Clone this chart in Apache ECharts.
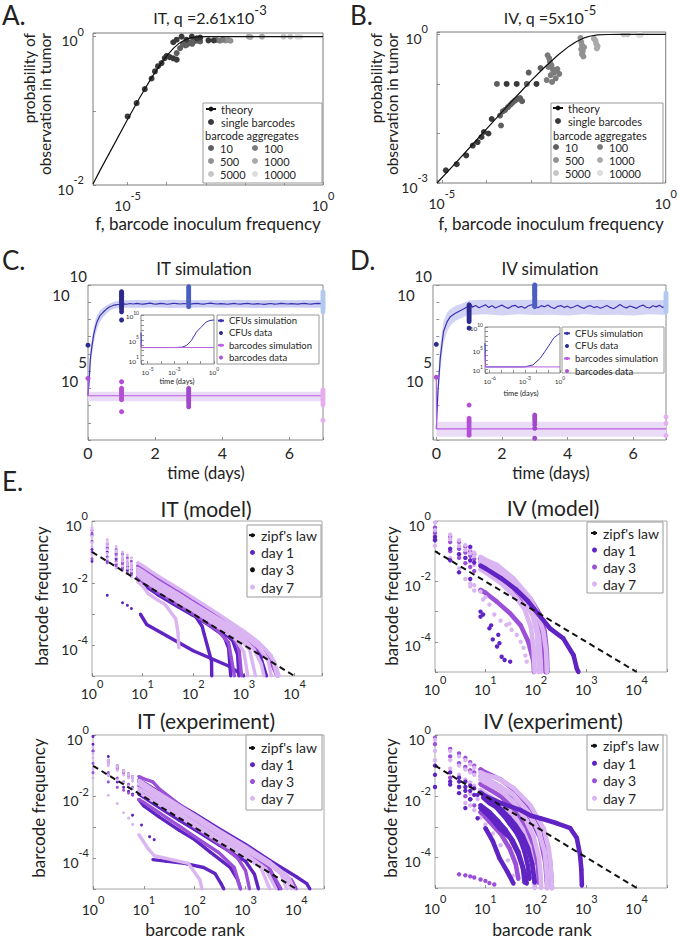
<!DOCTYPE html>
<html><head><meta charset="utf-8"><title>barcode figure</title>
<script src="https://cdn.jsdelivr.net/npm/echarts@6.0.0/dist/echarts.min.js"></script>
<style>html,body{margin:0;padding:0;background:#fff;}#chart{width:680px;height:938px;}</style>
</head><body><div id="chart"></div><script>
// ================= DATA =================
// ---- Panel A (IT, q = 2.61e-3): [f, probability] ----
const aTheory = [[1.3e-6,0.0103],[2e-6,0.016],[5e-6,0.039],[1e-5,0.077],[2e-5,0.148],[4e-5,0.274],[7e-5,0.43],[1e-4,0.55],[1.5e-4,0.7],[2e-4,0.8],[3e-4,0.91],[4e-4,0.96],[6e-4,0.99],[1e-3,1],[1,1]];
const aSingle = [[1.0e-5,0.084],[1.7e-5,0.127],[2.75e-5,0.196],[4.1e-5,0.273],[5e-5,0.34],[6e-5,0.40],[7.4e-5,0.44],[8.9e-5,0.515],[1e-4,0.55],[1.2e-4,0.53],[1.47e-4,0.51],[1.8e-4,0.49],[1.47e-4,0.84],[1.8e-4,0.91],[2.4e-4,1.0],[3.2e-4,0.91],[4.4e-4,1.0],[5.9e-4,0.95],[7.2e-4,0.97],[1.17e-3,0.89],[1.6e-3,0.89]];
const aAgg10 = [[1.8e-4,0.6],[2.2e-4,0.7],[2.6e-4,0.8],[3e-4,0.76],[3.3e-4,0.78],[3.8e-4,0.82],[4.2e-4,0.84],[4.5e-4,0.8],[5e-4,0.86],[6e-4,0.88],[7.2e-4,0.86]];
const aAgg100 = [[1.9e-3,0.9],[2.3e-3,0.88],[2.7e-3,0.91]];
const aAgg500 = [[3.2e-3,0.89],[3.8e-3,0.9],[4.3e-3,0.88]];
const aAgg1000 = [[1.26e-2,1.0],[1.4e-2,0.99],[2.75e-2,1.0]];
const aAgg5000 = [[9.8e-2,1.0],[0.145,1.0]];
const aAgg10000 = [[0.22,1.0],[0.26,1.0]];
// ---- Panel B (IV, q = 5e-5) ----
const bTheory = [[7.8e-6,0.001],[2e-5,0.0025],[5e-5,0.0062],[1e-4,0.0124],[3e-4,0.037],[6e-4,0.072],[1e-3,0.118],[2e-3,0.22],[4e-3,0.39],[7e-3,0.58],[1e-2,0.71],[1.5e-2,0.85],[2e-2,0.92],[3e-2,0.977],[5e-2,0.998],[0.1,1],[1,1]];
const bSingle = [[1.23e-5,0.0018],[2.15e-5,0.0024],[3.5e-5,0.0036],[4.9e-5,0.0057],[6.3e-5,0.0067],[7.7e-5,0.0085],[8.7e-5,0.0107],[1.1e-4,0.01],[1.3e-4,0.0196],[2.8e-4,0.1],[4.7e-4,0.1],[1.3e-3,0.1]];
const bAgg10 = [[1.7e-4,0.1],[7.9e-4,0.1],[2e-4,0.023],[2.1e-4,0.0145],[2.3e-4,0.028],[2.6e-4,0.03],[3e-4,0.034],[3.4e-4,0.038],[3.8e-4,0.042],[4.3e-4,0.046],[5e-4,0.05],[5.6e-4,0.052],[6.2e-4,0.045],[8.7e-4,0.17],[1.6e-3,0.21]];
const bAgg100 = [[2.3e-3,0.38],[2.5e-3,0.33],[2.6e-3,0.28],[2.8e-3,0.24],[3e-3,0.2],[3.2e-3,0.17],[2.4e-3,0.22],[2.7e-3,0.15],[3.5e-3,0.13],[2.9e-3,0.11],[3.8e-3,0.2],[2.2e-3,0.12],[4.2e-3,0.16]];
const bAgg500 = [[1.25e-2,0.85],[1.3e-2,0.7],[1.35e-2,0.6],[1.3e-2,0.5],[1.4e-2,0.45],[1.35e-2,0.4],[1.45e-2,0.36],[1.5e-2,0.55]];
const bAgg1000 = [[2.5e-2,0.82],[2.7e-2,0.75],[2.8e-2,0.65],[3e-2,0.58],[2.9e-2,0.52]];
const bAgg5000 = [[0.115,1.0],[0.14,1.0],[2.9e-3,0.17]];
const bAgg10000 = [[0.25,0.98],[0.28,0.98]];
// tick labels (powers of ten)
const aXTicks = [-5, 0], aYTicks = [0, -2];
const bXTicks = [-5, 0], bYTicks = [0, -3];
const cdYTicks = [5, 10];
const cInsetXTicks = [-5, -3, 0], dInsetXTicks = [-6, -3, 0], insetYTicks = [1, 5, 10];
const eXTicks = [0, 1, 2, 3, 4], eYTicks = [0, -2, -4];

// ---- Panel C (IT simulation): [day, count] ----
const cCfuSim = [[0,4e3],[0.04,4e4],[0.07,5.5e5],[0.12,3e6],[0.17,1.3e7],[0.22,3.5e7],[0.27,7.4e7],[0.35,1.6e8],[0.45,2.6e8],[0.55,4e8],[0.65,5.5e8],[0.75,6.5e8],[0.85,7.2e8],[0.95,7.6e8],
[1.05,8.1e8],[1.15,7.6e8],[1.25,8.4e8],[1.35,7.9e8],[1.45,8.6e8],[1.55,8.0e8],[1.65,7.7e8],[1.75,8.3e8],[1.85,8.8e8],[1.95,8.1e8],[2.05,7.8e8],[2.15,8.5e8],[2.25,8.2e8],[2.35,7.6e8],[2.45,8.0e8],[2.55,8.7e8],[2.65,8.3e8],[2.75,7.9e8],[2.85,8.4e8],[2.95,8.0e8],[3.05,7.7e8],[3.15,8.2e8],[3.25,8.6e8],[3.35,8.1e8],[3.45,7.8e8],[3.55,8.4e8],[3.65,8.9e8],[3.75,8.2e8],[3.85,7.9e8],[3.95,8.3e8],[4.05,8.0e8],[4.15,7.6e8],[4.25,8.1e8],[4.35,8.5e8],[4.45,7.9e8],[4.55,7.7e8],[4.65,8.2e8],[4.75,8.6e8],[4.85,8.0e8],[4.95,7.8e8],[5.05,8.3e8],[5.15,7.9e8],[5.25,7.5e8],[5.35,8.0e8],[5.45,8.4e8],[5.55,7.8e8],[5.65,8.1e8],[5.75,8.6e8],[5.85,8.2e8],[5.95,7.9e8],[6.05,8.3e8],[6.15,8.0e8],[6.25,7.7e8],[6.35,8.2e8],[6.45,8.5e8],[6.55,8.1e8],[6.65,7.8e8],[6.75,8.3e8],[6.85,8.6e8],[6.95,8.4e8]];
const cCfuBand = [[0,3e3,6e3],[0.04,1.2e4,1.5e5],[0.07,1.5e5,2e6],[0.12,9e5,9e6],[0.17,4e6,3.5e7],[0.22,1.2e7,9e7],[0.27,2.8e7,1.7e8],[0.35,7e7,3.2e8],[0.45,1.3e8,4.8e8],[0.55,2.2e8,6.5e8],[0.65,3.2e8,8.5e8],[0.8,4.3e8,1.1e9],[1.0,4.8e8,1.3e9],[1.5,4.7e8,1.35e9],[2,4.9e8,1.3e9],[2.5,4.6e8,1.4e9],[3,4.8e8,1.3e9],[3.5,5e8,1.35e9],[4,4.7e8,1.3e9],[4.5,4.9e8,1.4e9],[5,4.6e8,1.3e9],[5.5,4.8e8,1.35e9],[6,5e8,1.3e9],[6.5,4.7e8,1.35e9],[7,4.8e8,1.3e9]];
const cBarSim = [[0,3.8e4],[0.005,3.7e3],[7,3.7e3]];
const cBarBand = [[0,1.8e3,6.3e3],[7,1.8e3,6.3e3]];
const cCfuDay0 = [3.2e6];
const cCfuDay1 = [4.1e9,3.3e9,2.7e9,2.2e9,1.8e9,1.45e9,1.2e9,1e9,8e8,6.5e8,5.2e8,4e8,2.8e8,9.3e7];
const cCfuDay3 = [8e9,6.3e9,5e9,4e9,3.2e9,2.5e9,2e9,1.6e9,1.3e9,1e9,8e8,5.5e8];
const cCfuDay7 = [4e9,3.2e9,2.5e9,2e9,1.6e9,1.25e9,1e9,8e8,6.3e8,5e8,4e8,2.8e8];
const cBarDay0 = [3.8e4];
const cBarDay1 = [2.4e4,1e4,8e3,6.3e3,5e3,4e3,3.2e3,2.5e3,2.2e3,4.4e2];
const cBarDay3 = [1e4,7.9e3,6.3e3,5e3,4e3,3.2e3,2.5e3,2e3,1.6e3,1.2e3,8.5e2];
const cBarDay7 = [8e3,6.3e3,5e3,4e3,3.2e3,2.5e3,2e3,1.5e3,1.1e3,1.4e2];
const cInsetCfu = [[3.2e-6,3.2e6],[3.4e-6,3e3],[1e-3,3e3],[4e-3,3.5e3],[8.7e-3,8e3],[2e-2,8e4],[4.8e-2,4e6],[0.1,3e7],[0.26,4e8],[0.5,8e8],[1,1e9]];
const cInsetBar = [[3.2e-6,3.8e4],[3.4e-6,3e3],[1,3e3]];

// ---- Panel D (IV simulation) ----
const dCfuSim = [[0,44],[0.05,6.3e3],[0.12,5.5e5],[0.22,2e7],[0.33,7.4e7],[0.43,1.45e8],[0.58,2.3e8],[0.7,3e8],[0.83,4e8],[0.95,5.5e8],[1.04,8e8],[1.1,5.2e8],[1.2,6.5e8],[1.3,4.8e8],[1.4,5.8e8],[1.5,7e8],[1.6,5e8],[1.7,6.2e8],[1.8,4.6e8],[1.9,5.6e8],[2.0,6.8e8],[2.1,5.3e8],[2.2,4.4e8],[2.3,5.9e8],[2.4,6.6e8],[2.5,5e8],[2.6,5.7e8],[2.7,4.5e8],[2.8,6e8],[2.9,7.2e8],[3.0,5.8e8],[3.1,4.8e8],[3.2,6.3e8],[3.3,5.4e8],[3.4,6.9e8],[3.5,5.1e8],[3.6,4.3e8],[3.7,5.8e8],[3.8,6.4e8],[3.9,5e8],[4.0,5.9e8],[4.1,4.6e8],[4.2,5.5e8],[4.3,6.7e8],[4.4,5.2e8],[4.5,4.4e8],[4.6,5.7e8],[4.7,6.3e8],[4.8,4.9e8],[4.9,5.6e8],[5.0,4.5e8],[5.1,5.3e8],[5.2,6.5e8],[5.3,5e8],[5.4,4.2e8],[5.5,5.4e8],[5.6,7.3e8],[5.7,5.5e8],[5.8,4.7e8],[5.9,6e8],[6.0,5.2e8],[6.1,4.4e8],[6.2,5.8e8],[6.3,6.8e8],[6.4,5.1e8],[6.5,4.6e8],[6.6,6.2e8],[6.7,5.4e8],[6.8,6.6e8],[6.9,5e8],[7.0,5.6e8]];
const dCfuBand = [[0,20,100],[0.05,1.5e3,3e4],[0.12,1e5,3e6],[0.22,4e6,8e7],[0.33,2e7,2.5e8],[0.43,4.5e7,4e8],[0.58,8e7,6e8],[0.83,1.4e8,9e8],[1.0,1.8e8,1.3e9],[1.5,2e8,1.4e9],[2,1.7e8,1.3e9],[2.5,2e8,1.35e9],[3,1.8e8,1.4e9],[3.5,1.9e8,1.3e9],[4,1.7e8,1.35e9],[4.5,2e8,1.3e9],[5,1.8e8,1.4e9],[5.5,1.9e8,1.3e9],[6,1.7e8,1.35e9],[6.5,2e8,1.3e9],[7,1.8e8,1.35e9]];
const dBarSim = [[0,4.4e4],[0.01,44],[7,44]];
const dBarBand = [[0,15.5,115],[7,15.5,115]];
const dCfuDay0 = [3.6e6];
const dCfuDay1 = [7e8,5.5e8,4.5e8,3.5e8,2.8e8,2.2e8,1.7e8,1.3e8,1e8,7.6e7,3.1e7];
const dCfuDay3 = [1e10,8.5e9,7e9,6e9,5e9,4.2e9,3.5e9,3e9,2.5e9,2e9,1.6e9,1.3e9,1e9,8e8,6.3e8,5.5e8];
const dCfuDay7 = [3.4e9,2.7e9,2.1e9,1.7e9,1.3e9,1e9,8e8,6.3e8,5e8,4e8,2.8e8];
const dBarDay0 = [4.4e4];
const dBarDay1 = [1.07e3,1.8e2,1.3e2,1e2,70,50,35,25,19];
const dBarDay3 = [2.8e2,2.2e2,1.6e2,1.2e2,80,48,12.6];
const dBarDay7 = [2.2e2,93,18];
const dInsetCfu = [[4e-7,3.6e6],[4.5e-7,30],[1e-3,30],[5e-3,80],[2e-2,2e3],[5e-2,5e4],[0.14,2.5e6],[0.3,5e7],[0.7,2.5e8],[1,4e8]];
const dInsetBar = [[4e-7,4.4e4],[4.5e-7,30],[1,30]];

// ---- Panel E: rank-frequency curves, [rank, frequency] ----
const zipf = [[1,0.1],[10000,1e-5]];
// IT (model)
const itmDay1 = [
 [[1,0.5],[2,0.14],[3,0.09],[4,0.06],[5,0.045],[6,0.036],[8,0.027],[10,0.021],[20,0.01],[50,0.004],[100,0.002],[300,6.5e-4],[1000,1.8e-4],[2000,6e-5],[2800,1e-5]],
 [[1,0.35],[2,0.1],[3,0.06],[4,0.045],[5,0.035],[6,0.028],[8,0.02],[10,0.016],[20,0.0075],[50,0.0027],[100,0.0011],[150,4e-4],[165,2.2e-4],[230,3e-5],[232,1e-5]],
 [[1,0.05],[2,0.004],[4,0.0023],[5,0.0019],[6,0.0015],[9,0.001],[12,4.6e-4],[100,6.5e-5],[500,2.1e-5],[1000,1e-5]],
 [[1,0.12],[2,0.05],[3,0.04],[4,0.032],[5,0.026],[6,0.021],[8,0.016],[10,0.012],[20,0.0056],[50,0.0022],[100,0.0011],[300,3.6e-4],[600,1.4e-4],[750,5e-5],[800,1e-5]],
 [[10,0.009],[20,0.0042],[50,0.0017],[100,9e-4],[200,4.5e-4],[400,2e-4],[500,8e-5],[550,1e-5]]];
const itmDay3 = [
 [[1,0.22],[2,0.13],[3,0.08],[4,0.055],[5,0.042],[6,0.034],[8,0.025],[10,0.019],[20,0.0088],[50,0.0035],[100,0.0017],[300,5.8e-4],[1000,1.7e-4],[2000,7e-5],[3500,2.5e-5],[4500,1e-5]],
 [[1,0.1],[2,0.07],[3,0.05],[4,0.04],[5,0.033],[6,0.027],[8,0.02],[10,0.015],[20,0.007],[50,0.0028],[100,0.0014],[300,4.5e-4],[600,2e-4],[800,8e-5],[900,1e-5]],
 [[1,0.06],[2,0.045],[3,0.035],[4,0.028],[5,0.022],[6,0.018],[8,0.014],[10,0.011],[20,0.005],[50,0.002],[100,0.001],[300,3e-4],[500,1.2e-4],[650,1e-5]],
 [[1,0.4],[2,0.18],[3,0.12],[4,0.085],[5,0.065],[6,0.05],[8,0.036],[10,0.03],[20,0.014],[50,0.0055],[100,0.0027],[300,8.5e-4],[1000,2.5e-4],[2500,8e-5],[4000,2.5e-5],[4800,1e-5]]];
const itmDay7 = [
 [[1,0.32],[2,0.2],[3,0.1],[4,0.06],[5,0.045],[6,0.035],[8,0.026],[10,0.02],[20,0.0095],[50,0.0038],[100,0.0019],[300,6.5e-4],[1000,2e-4],[2000,8e-5],[3000,3.2e-5],[3500,1e-5]],
 [[1,0.15],[2,0.12],[3,0.07],[4,0.05],[5,0.038],[6,0.03],[8,0.022],[10,0.017],[20,0.008],[50,0.0032],[100,0.0016],[300,5.2e-4],[1000,1.5e-4],[1600,7e-5],[2200,2.5e-5],[2500,1e-5]],
 [[1,0.08],[2,0.06],[3,0.045],[4,0.035],[5,0.03],[6,0.024],[8,0.018],[10,0.013],[20,0.0062],[50,0.0025],[100,0.0013],[300,4e-4],[700,1.5e-4],[1000,6e-5],[1200,1e-5]],
 [[1,0.2],[2,0.09],[3,0.03],[4,0.025],[5,0.02],[6,0.016],[8,0.011],[10,0.008],[13,0.0045],[20,0.0028],[28,0.002],[45,7e-4],[50,2.5e-4],[52,8e-5]],
 [[1,0.5],[2,0.16],[3,0.11],[4,0.075],[5,0.055],[6,0.042],[8,0.03],[10,0.024],[20,0.011],[50,0.0045],[100,0.0022],[300,7.5e-4],[1000,2.4e-4],[2500,8e-5],[4000,3e-5],[5000,1e-5]],
 [[1,0.6],[2,0.25],[3,0.15],[4,0.1],[5,0.08],[6,0.065],[8,0.045],[10,0.036],[20,0.017],[50,0.0068],[100,0.0033],[300,1.05e-3],[1000,2.8e-4],[2000,1.2e-4],[3500,4.5e-5],[4500,1e-5]],
 [[8,0.02],[10,0.016],[20,0.0075],[50,0.003],[100,0.0015],[300,5e-4],[800,1.7e-4],[1300,7e-5],[1700,1e-5]]];
// IV (model)
const ivmDay1 = [
 [[1,0.3],[2,0.12],[3,0.08],[4,0.06],[5,0.05],[6,0.042],[8,0.033],[10,0.027],[20,0.013],[40,0.0055],[70,0.0022],[90,0.0013],[190,2.8e-4],[350,1.3e-4],[560,3.6e-5],[650,1.3e-5],[700,1e-5]]];
const ivmDay1Dots = [[1,0.23],[5,0.14],[2,0.05],[3,0.02],[5,0.012],[8,0.001],[8,6.8e-4],[9,8e-4],[12,2.8e-4],[13,3.5e-4],[14,1.2e-4],[17,7e-5],[18,1.7e-4],[19,9e-5],[21,3.2e-5],[24,2.5e-5],[31,2.2e-5]];
const ivmDay3 = [
 [[1,0.6],[2,0.3],[3,0.2],[4,0.14],[5,0.1],[6,0.08],[8,0.058],[10,0.047],[20,0.025],[40,0.009],[80,0.0025],[120,8e-4],[150,2.2e-4],[165,5e-5],[170,1e-5]],
 [[1,0.4],[2,0.2],[3,0.12],[4,0.09],[5,0.07],[6,0.055],[8,0.04],[10,0.032],[20,0.015],[40,0.005],[70,0.0015],[100,5e-4],[130,1.2e-4],[150,2.5e-5],[155,1e-5]],
 [[1,0.25],[2,0.1],[3,0.06],[4,0.04],[5,0.03],[6,0.022],[8,0.0052],[10,0.0042],[17,0.0021],[31,8.7e-4],[50,3.5e-4],[71,1e-4],[90,2.2e-5],[92,1e-5]],
 [[8,0.05],[10,0.04],[20,0.02],[40,0.007],[75,0.002],[110,6e-4],[140,1.5e-4],[158,3e-5],[162,1e-5]]];
const ivmDay7 = [
 [[1,0.9],[2,0.35],[3,0.23],[4,0.16],[5,0.12],[6,0.09],[8,0.065],[10,0.052],[17,0.035],[36,0.0126],[77,0.0028],[105,0.001],[141,2.2e-4],[160,5e-5],[166,1e-5]],
 [[1,0.5],[2,0.25],[3,0.15],[4,0.11],[5,0.085],[6,0.07],[8,0.05],[10,0.04],[17,0.025],[36,0.009],[70,0.002],[95,6e-4],[115,1.5e-4],[125,2e-5],[127,1e-5]],
 [[1,0.3],[2,0.12],[3,0.08],[4,0.06],[5,0.045],[6,0.035],[8,0.025],[10,0.02],[20,0.009],[40,0.003],[60,0.0012],[80,3e-4],[90,6e-5],[95,1e-5]],
 [[8,0.04],[10,0.033],[17,0.02],[36,0.007],[60,0.0025],[85,8e-4],[105,2e-4],[112,3e-5],[115,1e-5]]];
const ivmDay7Dots = [[1,0.15],[2,0.06],[3,0.027],[4,0.012],[5,0.0085],[5,0.0068],[6,0.0075],[6,0.005],[8,0.0046],[9,0.0025],[10,0.003],[12,0.0017],[15,8e-4],[20,5e-4],[26,3.6e-4],[30,4e-4],[33,2.5e-4],[42,1.7e-4],[50,1e-4],[57,6.3e-5],[62,3.5e-5],[66,2.2e-5]];
// IT (experiment)
const iteDay1 = [
 [[1,0.9],[2,0.2],[3,0.1],[4,0.07],[5,0.055],[6,0.045],[8,0.035],[10,0.028],[20,0.014],[50,0.0055],[100,0.0028],[300,9e-4],[1000,2.8e-4],[3000,8.5e-5],[10000,2.5e-5],[16000,1.5e-5],[18500,1e-5]],
 [[15,9e-5],[27,8e-5],[63,6.8e-5],[150,5e-5],[250,3.2e-5],[330,1.5e-5],[375,1e-5]],
 [[1,0.3],[2,0.05],[3,0.03],[4,0.02],[5,0.015],[6,0.012],[8,0.008],[10,0.005],[20,0.0022],[50,8e-4],[100,4e-4],[200,1.6e-4],[500,5e-5],[700,2e-5],[800,1e-5]],
 [[1,0.5],[2,0.15],[3,0.09],[4,0.065],[5,0.05],[6,0.04],[8,0.03],[10,0.024],[20,0.011],[50,0.0042],[100,0.002],[300,6e-4],[1000,1.7e-4],[2500,5e-5],[4000,1.5e-5],[4500,1e-5]],
 [[8,0.012],[10,0.0095],[20,0.0045],[50,0.0017],[100,8.5e-4],[300,2.7e-4],[1000,8e-5],[1500,3e-5],[1800,1e-5]]];
const iteDay1Dots = [[6,0.0025],[9,0.0012],[13,5e-4],[16,4e-4]];
const iteDay3 = [
 [[1,0.3],[2,0.12],[3,0.08],[4,0.06],[5,0.048],[6,0.04],[8,0.045],[10,0.038],[15,0.03],[20,0.018],[50,0.0055],[100,0.0025],[300,8e-4],[1000,2.5e-4],[3000,7e-5],[8000,2e-5],[10000,1e-5]],
 [[1,0.12],[2,0.06],[3,0.04],[4,0.03],[5,0.025],[6,0.02],[8,0.015],[10,0.012],[20,0.006],[50,0.0022],[100,0.001],[300,3e-4],[700,1e-4],[1000,4e-5],[1200,1e-5]],
 [[1,0.06],[2,0.03],[3,0.02],[4,0.016],[5,0.013],[6,0.011],[8,0.008],[10,0.0065],[20,0.003],[50,0.0011],[100,5e-4],[300,1.5e-4],[600,5e-5],[800,1e-5]],
 [[8,0.022],[10,0.017],[20,0.008],[50,0.0031],[100,0.0015],[300,4.8e-4],[1000,1.5e-4],[3000,4.5e-5],[5000,1e-5]]];
const iteDay7 = [
 [[1,0.18],[2,0.1],[3,0.07],[4,0.05],[5,0.04],[6,0.032],[8,0.025],[10,0.02],[20,0.0095],[50,0.0038],[100,0.0019],[300,6e-4],[1000,1.8e-4],[3000,6e-5],[6000,2.5e-5],[8000,1e-5]],
 [[1,0.08],[2,0.05],[3,0.035],[4,0.028],[5,0.022],[6,0.018],[8,0.014],[10,0.011],[20,0.0055],[50,0.0022],[100,0.0011],[300,3.5e-4],[1000,1.1e-4],[2000,5e-5],[3000,1e-5]],
 [[1,0.04],[2,0.011],[3,0.006],[4,0.003],[5,0.002],[6,0.00125],[8,5.8e-4],[12,2.1e-4],[16,1.2e-4],[75,6.8e-5],[126,2e-5],[140,1e-5]],
 [[1,0.4],[2,0.15],[3,0.1],[4,0.07],[5,0.055],[6,0.045],[8,0.034],[10,0.027],[20,0.013],[50,0.005],[100,0.0025],[300,8e-4],[1000,2.4e-4],[3000,7.5e-5],[7000,2.5e-5],[9000,1e-5]],
 [[1,0.25],[2,0.12],[3,0.09],[4,0.065],[5,0.05],[6,0.04],[8,0.03],[10,0.024],[20,0.011],[50,0.0044],[100,0.0022],[300,7e-4],[1000,2.1e-4],[3000,7e-5],[5000,3e-5],[6500,1e-5]],
 [[8,0.018],[10,0.015],[20,0.0072],[50,0.0029],[100,0.0014],[300,4.5e-4],[1000,1.4e-4],[2500,4.5e-5],[4000,1e-5]]];
// IV (experiment)
const iveDay1 = [
 [[1,0.1],[2,0.03],[3,0.02],[4,0.015],[6,0.011],[10,0.01],[20,0.006],[50,0.0035],[80,0.0023],[122,0.0019],[262,0.0013],[482,9e-4],[650,4.3e-4],[755,1.2e-4],[800,4e-5],[820,1.2e-5]],
 [[2,0.06],[3,0.04],[4,0.03],[5,0.022],[6,0.018],[8,0.013],[10,0.01],[13,0.007],[17,0.005],[22,0.0033],[30,0.002],[40,0.0011],[55,5e-4],[70,2e-4],[85,6e-5],[95,1.5e-5]],
 [[3,0.03],[4,0.02],[5,0.015],[7,0.011],[9,0.009],[12,0.006],[16,0.0045],[20,0.003],[25,0.002],[30,0.0013],[40,7e-4],[50,3.5e-4],[60,1.5e-4],[70,5e-5],[75,2e-5]],
 [[2,0.024],[3,0.0126],[5,0.0079],[8,0.0041],[12,0.0022],[19,9e-4],[31,4.3e-4],[45,1.26e-4],[61,2.8e-5],[66,1.4e-5]],
 [[4,0.0041],[7,0.0019],[10,9e-4],[14,3.4e-4],[19,9.5e-5],[27,3.5e-5],[36,1.4e-5]],
 [[5,0.008],[8,0.005],[12,0.003],[18,0.0015],[25,8e-4],[35,3.5e-4],[45,1.5e-4],[55,5e-5],[60,1.5e-5]]];
const iveDay1Dots = [[1,0.05],[1,0.02]];
const iveDay3 = [
 [[1,0.8],[2,0.35],[3,0.25],[4,0.18],[5,0.13],[6,0.1],[8,0.075],[10,0.06],[20,0.035],[40,0.015],[80,0.004],[140,8e-4],[190,8e-5],[205,2e-5],[208,1e-5]],
 [[1,0.5],[2,0.2],[3,0.12],[4,0.09],[5,0.07],[6,0.06],[8,0.045],[10,0.038],[20,0.02],[36,0.008],[77,0.002],[122,4.3e-4],[153,7.4e-5],[165,1.7e-5],[168,1e-5]],
 [[2,0.04],[3,0.02],[4,0.01],[6,0.005],[8,0.003],[12,0.0015],[20,6e-4],[30,2e-4],[40,6e-5],[45,2e-5]],
 [[8,0.025],[10,0.02],[20,0.01],[36,0.004],[60,0.0012],[85,3e-4],[100,8e-5],[110,1.5e-5]]];
const iveDay3Dots = [[3,2.8e-5],[4,2.6e-5],[5,2.4e-5],[6,2.2e-5],[8,1.9e-5],[10,1.7e-5],[12,1.45e-5],[15,1.3e-5]];
const iveDay7 = [
 [[1,0.7],[2,0.3],[3,0.2],[4,0.15],[5,0.11],[6,0.085],[8,0.06],[10,0.05],[17,0.04],[36,0.0186],[77,0.0052],[142,9e-4],[180,2e-4],[194,7.4e-5],[205,2e-5],[208,1e-5]],
 [[1,0.3],[2,0.15],[3,0.1],[4,0.075],[5,0.06],[6,0.05],[8,0.035],[10,0.028],[20,0.015],[36,0.0065],[60,0.002],[90,5e-4],[115,1e-4],[125,2.5e-5],[128,1e-5]],
 [[1,0.15],[2,0.08],[3,0.05],[4,0.035],[5,0.028],[6,0.022],[8,0.016],[10,0.012],[20,0.006],[36,0.0025],[55,8e-4],[75,2.2e-4],[90,5e-5],[95,1e-5]],
 [[8,0.045],[10,0.038],[20,0.02],[36,0.011],[70,0.003],[110,8e-4],[150,1.5e-4],[165,3e-5],[170,1e-5]]];
const iveDay7Dots = [[4,0.006],[5,0.012],[5,0.005],[6,0.0035],[7,0.008],[8,0.002],[10,0.0012],[14,6e-4],[20,2.5e-4],[28,8e-5],[35,2.5e-5]];

// ================= RENDERING =================
const F = 'Lato, "Open Sans", sans-serif';
const TXT = '#262626';
const C_DAY1 = '#5f24c3', C_DAY3 = '#9b50d8', C_DAY7 = '#dbb5f2';
const C_CFU = '#3a33b2', C_CFU0 = '#2e2b8e', C_CFU3 = '#4b5fc2', C_CFU7 = '#b2c8ef';
const C_BAR = '#b95ee0', C_BAR1 = '#b24fd5', C_BAR3 = '#a049ca', C_BAR7 = '#e6aef0';
const GRAYS = {'10':'#5f5f5f','100':'#7b7b7b','500':'#919191','1000':'#aaaaaa','5000':'#c6c6c6','10000':'#dcdcdc'};

function rich(b, s, lh, color) {
  return { b: {fontSize:b, lineHeight:lh, verticalAlign:'bottom', fontFamily:F, color:color||TXT},
           s: {fontSize:s, lineHeight:lh, verticalAlign:'top', fontFamily:F, color:color||TXT} };
}
function expFmt(list) {
  return function (v) {
    const l = Math.log10(v), e = Math.round(l);
    return (Math.abs(l - e) < 1e-6 && list.indexOf(e) >= 0) ? '{b|10}{s|' + e + '}' : '';
  };
}
function logAxis(gi, min, max, ticks, label) {
  return { type:'log', logBase:10, gridIndex:gi, min:min, max:max,
    axisLine:{show:false}, splitLine:{show:false},
    axisTick:{show:true, inside:true, length:3, lineStyle:{color:'#777', width:0.8}},
    axisLabel: Object.assign({formatter: expFmt(ticks), rich: rich(14, 11, 22), margin: 6, hideOverlap:false}, label || {}) };
}
function valAxis(gi, min, max) {
  return { type:'value', gridIndex:gi, min:min, max:max, splitNumber:4,
    axisLine:{show:false}, splitLine:{show:false},
    axisTick:{show:true, inside:true, length:3, lineStyle:{color:'#777', width:0.8}},
    axisLabel:{ formatter: function (v) { return (Math.abs(v - Math.round(v)) < 1e-9 && Math.round(v) % 2 === 0 && v >= 0) ? String(Math.round(v)) : ''; },
      fontSize:16, fontFamily:F, color:TXT, margin:4 } };
}
function scat(gi, data, name, color, size, z, clip) {
  return {type:'scatter', name:name, xAxisIndex:gi, yAxisIndex:gi, data:data, symbol:'circle', symbolSize:size,
    itemStyle:{color:color, opacity:1}, z:z || 4, clip: clip !== false, silent:true};
}
function line(gi, data, name, color, width, dash, z) {
  return {type:'line', name:name, xAxisIndex:gi, yAxisIndex:gi, data:data, symbol:'none',
    lineStyle:{color:color, width:width, type:dash || 'solid'}, itemStyle:{color:color}, z:z || 3, silent:true};
}
function band(gi, data, color) {
  return {type:'custom', name:'band', xAxisIndex:gi, yAxisIndex:gi, data:data, z:1, silent:true, clip:true,
    encode:{x:0, y:[1, 2]},
    renderItem: function (params, api) {
      if (params.dataIndex !== 0) return null;
      const top = data.map(function (d) { return api.coord([d[0], d[2]]); });
      const bot = data.map(function (d) { return api.coord([d[0], d[1]]); }).reverse();
      return {type:'polygon', shape:{points: top.concat(bot)}, style:{fill: color}};
    }};
}
function dayPoints(day, arr) { return arr.map(function (v) { return [day, v]; }); }
function eGroup(gi, curves, dots, name, color, size, lw, z) {
  const out = [];
  const low = [];
  curves.forEach(function (c) {
    c.forEach(function (p) { if (p[0] <= 8) low.push(p); });
    const ln = c.filter(function (p) { return p[0] >= 8; });
    if (ln.length > 1) {
      out.push({type:'line', name:name, xAxisIndex:gi, yAxisIndex:gi, data:ln, symbol:'circle', symbolSize:size,
        showSymbol:true, lineStyle:{color:color, width:lw}, itemStyle:{color:color}, z:z, silent:true});
    }
  });
  out.push(scat(gi, low.concat(dots || []), name, color, size, z));
  return out;
}

const grids = [
  {left:93, top:33, width:230, height:152},   // 0 A
  {left:437, top:32, width:229, height:151},  // 1 B
  {left:88, top:285, width:235, height:155},  // 2 C
  {left:141, top:315, width:73, height:49},   // 3 C inset
  {left:433, top:285, width:233, height:155}, // 4 D
  {left:485, top:327, width:75, height:46},   // 5 D inset
  {left:92, top:521, width:230, height:155},  // 6 E IT model
  {left:435, top:521, width:232, height:151}, // 7 E IV model
  {left:93, top:735, width:231, height:154},  // 8 E IT exp
  {left:435, top:735, width:232, height:153}  // 9 E IV exp
].map(function (g, i) {
  const col = (i <= 1) ? '#7a7a7a' : (i <= 5 ? '#8a8a8a' : '#a8a8a8');
  return Object.assign({show:true, borderColor:col, borderWidth:1, backgroundColor:'transparent', containLabel:false}, g);
});

const yLab = {margin:9};
const cdYLab = {rich: rich(15, 15, 34), margin:1};
const insetLab = {rich: rich(6.5, 5, 10, '#333'), margin:2};
const xAxis = [
  logAxis(0, 1.3e-6, 1, aXTicks, {margin:5}),
  logAxis(1, 7.8e-6, 1, bXTicks, {margin:5}),
  valAxis(2, 0, 7),
  logAxis(3, 3.2e-6, 1, cInsetXTicks, insetLab),
  valAxis(4, -0.1, 7),
  logAxis(5, 4e-7, 1, dInsetXTicks, insetLab),
  logAxis(6, 1, 3.5e4, eXTicks, {margin:2}),
  logAxis(7, 1, 4e4, eXTicks, {margin:2}),
  logAxis(8, 1, 3.5e4, eXTicks, {margin:5}),
  logAxis(9, 1, 4e4, eXTicks, {margin:5})
];
const yAxis = [
  logAxis(0, 0.01, 1.12, aYTicks, yLab),
  logAxis(1, 0.001, 1.12, bYTicks, yLab),
  logAxis(2, 10, 1e10, cdYTicks, cdYLab),
  logAxis(3, 1.5, 1e10, insetYTicks, insetLab),
  logAxis(4, 10, 1e10, cdYTicks, cdYLab),
  logAxis(5, 1.5, 1e10, insetYTicks, insetLab),
  logAxis(6, 1e-5, 1, eYTicks, {margin:4}),
  logAxis(7, 1e-5, 1, eYTicks, {margin:4}),
  logAxis(8, 1e-5, 1, eYTicks, {margin:4}),
  logAxis(9, 1e-5, 1, eYTicks, {margin:4})
];

const series = [];
// A & B
[[0, aTheory, aSingle, [aAgg10, aAgg100, aAgg500, aAgg1000, aAgg5000, aAgg10000]],
 [1, bTheory, bSingle, [bAgg10, bAgg100, bAgg500, bAgg1000, bAgg5000, bAgg10000]]].forEach(function (p) {
  const names = ['10','100','500','1000','5000','10000'];
  p[3].slice().reverse().forEach(function (d, k) {
    const nm = names[names.length - 1 - k];
    series.push(scat(p[0], d, nm, GRAYS[nm], 6, 3));
  });
  series.push(scat(p[0], p[2], 'single barcodes', '#3a3a3a', 6, 4));
  series.push(line(p[0], p[1], 'theory', '#111', 1.2, 'solid', 5));
});
// C
series.push(band(2, cCfuBand, '#cdd0f3'));
series.push(band(2, cBarBand, '#eadcf7'));
series.push(line(2, cCfuSim, 'CFUs simulation', C_CFU, 1.2));
series.push(line(2, cBarSim, 'barcodes simulation', C_BAR, 1.2));
series.push(scat(2, dayPoints(0, cCfuDay0).concat(dayPoints(1, cCfuDay1)), 'CFUs data', C_CFU0, 5, 4, false));
series.push(scat(2, dayPoints(3, cCfuDay3), 'CFUs data d3', C_CFU3, 5, 4, false));
series.push(scat(2, dayPoints(7, cCfuDay7), 'CFUs data d7', C_CFU7, 5, 4, false));
series.push(scat(2, dayPoints(0, cBarDay0).concat(dayPoints(1, cBarDay1)), 'barcodes data', C_BAR1, 5, 4, false));
series.push(scat(2, dayPoints(3, cBarDay3), 'barcodes data d3', C_BAR3, 5, 4, false));
series.push(scat(2, dayPoints(7, cBarDay7), 'barcodes data d7', C_BAR7, 5, 4, false));
series.push(line(3, cInsetCfu, 'inset CFUs', C_CFU, 1));
series.push(line(3, cInsetBar, 'inset barcodes', C_BAR, 1));
// D
series.push(band(4, dCfuBand, '#d3d3f6'));
series.push(band(4, dBarBand, '#eadcf7'));
series.push(line(4, dCfuSim, 'CFUs simulation', C_CFU, 1.2));
series.push(line(4, dBarSim, 'barcodes simulation', C_BAR, 1.2));
series.push(scat(4, dayPoints(0, dCfuDay0).concat(dayPoints(1, dCfuDay1)), 'CFUs data', C_CFU0, 5, 4, false));
series.push(scat(4, dayPoints(3, dCfuDay3), 'CFUs data d3', C_CFU3, 5, 4, false));
series.push(scat(4, dayPoints(7, dCfuDay7), 'CFUs data d7', C_CFU7, 5, 4, false));
series.push(scat(4, dayPoints(0, dBarDay0).concat(dayPoints(1, dBarDay1)), 'barcodes data', C_BAR1, 5, 4, false));
series.push(scat(4, dayPoints(3, dBarDay3), 'barcodes data d3', C_BAR3, 5, 4, false));
series.push(scat(4, dayPoints(7, dBarDay7), 'barcodes data d7', C_BAR7, 5, 4, false));
series.push(line(5, dInsetCfu, 'inset CFUs', C_CFU, 1));
series.push(line(5, dInsetBar, 'inset barcodes', C_BAR, 1));
// E
const IT_S = 3, IT_W = 3.4, IV_S = 4.4, IV_W = 4.6;
Array.prototype.push.apply(series, eGroup(6, itmDay1, [], 'day 1', C_DAY1, IT_S, IT_W, 3));
Array.prototype.push.apply(series, eGroup(6, itmDay3, [], 'day 3', C_DAY3, IT_S, IT_W, 4));
Array.prototype.push.apply(series, eGroup(6, itmDay7, [], 'day 7', C_DAY7, IT_S, IT_W, 5));
Array.prototype.push.apply(series, eGroup(7, ivmDay3, [], 'day 3', C_DAY3, IV_S, IV_W, 3));
Array.prototype.push.apply(series, eGroup(7, ivmDay7, ivmDay7Dots, 'day 7', C_DAY7, IV_S, IV_W, 4));
Array.prototype.push.apply(series, eGroup(7, ivmDay1, ivmDay1Dots, 'day 1', C_DAY1, IV_S, IV_W, 5));
Array.prototype.push.apply(series, eGroup(8, iteDay1, iteDay1Dots, 'day 1', C_DAY1, IT_S, IT_W, 3));
Array.prototype.push.apply(series, eGroup(8, iteDay3, [], 'day 3', C_DAY3, IT_S, IT_W, 4));
Array.prototype.push.apply(series, eGroup(8, iteDay7, [], 'day 7', C_DAY7, IT_S, IT_W, 5));
Array.prototype.push.apply(series, eGroup(9, iveDay3, iveDay3Dots, 'day 3', C_DAY3, IV_S, IV_W, 3));
Array.prototype.push.apply(series, eGroup(9, iveDay7, iveDay7Dots, 'day 7', C_DAY7, IV_S, IV_W, 4));
Array.prototype.push.apply(series, eGroup(9, iveDay1, iveDay1Dots, 'day 1', C_DAY1, IV_S, IV_W, 5));
[6, 7, 8, 9].forEach(function (gi) { series.push(line(gi, zipf, "zipf's law", '#111', 2, [6, 4], 10)); });

// ---- legends ----
function lg(left, top, fs, lh, iw, ih, data) {
  return {show:true, orient:'vertical', left:left, top:top, itemWidth:iw, itemHeight:ih, itemGap:0, padding:0,
    selectedMode:false, z:20, textStyle:{fontSize:fs, lineHeight:lh, fontFamily:F, color:TXT}, data:data};
}
function ci(name, color) { const o = {name:name, icon:'circle'}; if (color) o.itemStyle = {color:color}; return o; }
function eLegend(left, top, pitch, d3color) {
  return lg(left, top, 14, pitch, 7, 5, [{name:"zipf's law"}, ci('day 1', C_DAY1), ci('day 3', d3color), ci('day 7', C_DAY7)]);
}
const legend = [
  lg(205, 102.5, 11, 13, 10, 6, ['theory', ci('single barcodes', '#3a3a3a')]),
  lg(208, 141.5, 11, 13, 8, 6, [ci('10', GRAYS['10']), ci('500', GRAYS['500']), ci('5000', GRAYS['5000'])]),
  lg(252, 141.5, 11, 13, 8, 6, [ci('100', GRAYS['100']), ci('1000', GRAYS['1000']), ci('10000', GRAYS['10000'])]),
  lg(552, 101.5, 11, 13, 10, 6, ['theory', ci('single barcodes', '#3a3a3a')]),
  lg(553, 140.5, 11, 13, 8, 6, [ci('10', GRAYS['10']), ci('500', GRAYS['500']), ci('5000', GRAYS['5000'])]),
  lg(597, 140.5, 11, 13, 8, 6, [ci('100', GRAYS['100']), ci('1000', GRAYS['1000']), ci('10000', GRAYS['10000'])]),
  lg(217, 314.5, 9.5, 12.3, 6, 4, ['CFUs simulation', ci('CFUs data', C_CFU0), 'barcodes simulation', ci('barcodes data', C_BAR1)]),
  lg(563, 327, 9.5, 12.6, 6, 4, ['CFUs simulation', ci('CFUs data', C_CFU0), 'barcodes simulation', ci('barcodes data', C_BAR1)]),
  eLegend(248, 526.5, 17.3, '#111'),
  eLegend(590, 524.5, 17, C_DAY3),
  eLegend(248, 739.5, 16.8, C_DAY3),
  eLegend(590, 737, 17.5, C_DAY3)
];

// ---- text & boxes ----
function T(x, y, text, size, o) {
  o = o || {};
  return {type:'text', x:x, y:y, rotation:o.rot || 0, z:30, silent:true,
    style:{text:text, fontSize:size, fontFamily:F, fill:o.color || '#222', align:o.align || 'center', verticalAlign:'middle', rich:o.rich}};
}
function R(x, y, w, h) {
  return {type:'rect', shape:{x:x, y:y, width:w, height:h}, z:15, silent:true, style:{fill:'#fff', stroke:'#9a9a9a', lineWidth:1}};
}
const gRich = {b:{fontSize:16, lineHeight:22, verticalAlign:'bottom', fontFamily:F, fill:'#222'},
               s:{fontSize:13, lineHeight:22, verticalAlign:'top', fontFamily:F, fill:'#222'}};
const graphic = [
  R(203, 103, 119, 80), R(551, 103, 112, 80), R(217, 315, 102, 49), R(562, 327, 102, 46),
  R(247, 525, 74, 72), R(587, 522, 76, 71), R(246, 735, 76, 75), R(587, 735, 76, 75),
  T(2, 15, 'A.', 26, {align:'left'}), T(350, 15, 'B.', 26, {align:'left'}),
  T(2, 260, 'C.', 26, {align:'left'}), T(350, 260, 'D.', 26, {align:'left'}), T(2, 481, 'E.', 26, {align:'left'}),
  T(210, 14.5, '{b|IT, q =2.61x10}{s|-3}', 16, {rich:gRich}),
  T(550, 14.5, '{b|IV, q =5x10}{s|-5}', 16, {rich:gRich}),
  T(204, 268, 'IT simulation', 17), T(550, 268, 'IV simulation', 17),
  T(206, 508, 'IT (model)', 21), T(553, 507, 'IV (model)', 21),
  T(206, 720, 'IT (experiment)', 21), T(553, 720, 'IV (experiment)', 21),
  T(208, 223, 'f, barcode inoculum frequency', 17), T(551, 223, 'f, barcode inoculum frequency', 17),
  T(29, 33, 'probability of', 15.5, {rot:Math.PI / 2, align:'right'}),
  T(45, 33, 'observation in tumor', 15.5, {rot:Math.PI / 2, align:'right'}),
  T(376, 33, 'probability of', 15.5, {rot:Math.PI / 2, align:'right'}),
  T(392, 33, 'observation in tumor', 15.5, {rot:Math.PI / 2, align:'right'}),
  T(206, 473, 'time (days)', 16.5), T(551, 473, 'time (days)', 16.5),
  T(177, 381, 'time (days)', 7.5), T(521, 393, 'time (days)', 7.5),
  T(41, 596, 'barcode frequency', 17, {rot:Math.PI / 2}), T(391, 596, 'barcode frequency', 17, {rot:Math.PI / 2}),
  T(38, 808, 'barcode frequency', 17, {rot:Math.PI / 2}), T(390, 808, 'barcode frequency', 17, {rot:Math.PI / 2}),
  T(195, 929, 'barcode rank', 17.5), T(542, 929, 'barcode rank', 17.5),
  T(205, 135, 'barcode aggregates', 11, {align:'left'}), T(553, 135, 'barcode aggregates', 11, {align:'left'})
];

const chart = echarts.init(document.getElementById('chart'), null, {renderer:'svg', width:680, height:938});
chart.setOption({
  animation:false, backgroundColor:'#fff',
  textStyle:{fontFamily:F},
  grid:grids, xAxis:xAxis, yAxis:yAxis, series:series, legend:legend, graphic:graphic
});
</script></body></html>
